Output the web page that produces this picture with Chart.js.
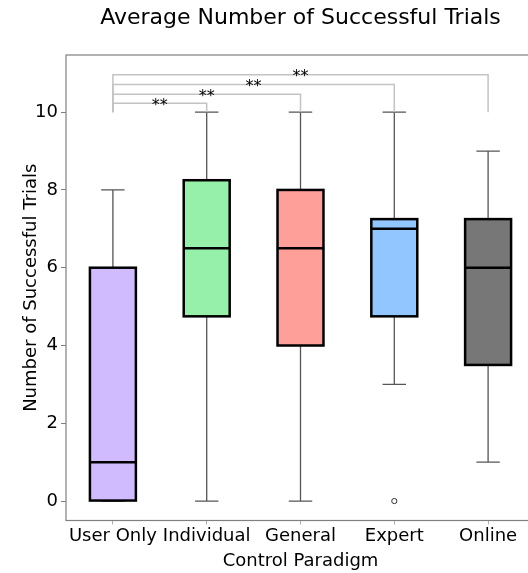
<!DOCTYPE html>
<html>
<head>
<meta charset="utf-8">
<script src="https://cdn.jsdelivr.net/npm/chart.js@4/dist/chart.umd.min.js"></script>
<style>
  html, body { margin: 0; padding: 0; overflow: hidden; background: #fff; }
  #wrap { position: absolute; left: 0; top: 0; width: 540px; height: 573px; }
</style>
</head>
<body>
<div id="wrap"><canvas id="c"></canvas></div>
<script>
// Control paradigms on the x axis
const categories = ['User Only', 'Individual', 'General', 'Expert', 'Online'];
// Five-number summaries per paradigm
const whiskerLow = [0, 0, 0, 3, 1];
const q1 = [0, 4.75, 4, 4.75, 3.5];
const median = [1, 6.5, 6.5, 7, 6];
const q3 = [6, 8.25, 8, 7.25, 7.25];
const whiskerHigh = [8, 10, 10, 10, 9];
// Outliers (null where none)
const outliers = [null, null, null, 0, null];
const boxColors = ['#D0BBFF', '#97F0AA', '#FF9F9A', '#92C6FF', '#777777'];
// Y axis ticks
const yTicks = [0, 2, 4, 6, 8, 10];
// Significance brackets from 'User Only' to each other paradigm
const bracketFrom = 'User Only';
const bracketTo = ['Individual', 'General', 'Expert', 'Online'];
const bracketHeights = [10.23, 10.46, 10.71, 10.96];
const bracketBase = 10;
const bracketLabels = ['**', '**', '**', '**'];

const FONT = "'DejaVu Sans', sans-serif";
const BOX_FRAC = 0.49;

const boxPlugin = {
  id: 'boxParts',
  beforeDatasetsDraw(chart) {
    const { ctx, scales: { x, y } } = chart;
    const step = x.getPixelForValue(1) - x.getPixelForValue(0);
    ctx.save();
    ctx.strokeStyle = '#555';
    ctx.lineWidth = 1.3;
    categories.forEach((c, i) => {
      const cx = x.getPixelForValue(i);
      const capHalf = step * 0.25 / 2;
      ctx.beginPath();
      ctx.moveTo(cx, y.getPixelForValue(q3[i]));
      ctx.lineTo(cx, y.getPixelForValue(whiskerHigh[i]));
      ctx.moveTo(cx, y.getPixelForValue(q1[i]));
      ctx.lineTo(cx, y.getPixelForValue(whiskerLow[i]));
      ctx.moveTo(cx - capHalf, y.getPixelForValue(whiskerHigh[i]));
      ctx.lineTo(cx + capHalf, y.getPixelForValue(whiskerHigh[i]));
      ctx.moveTo(cx - capHalf, y.getPixelForValue(whiskerLow[i]));
      ctx.lineTo(cx + capHalf, y.getPixelForValue(whiskerLow[i]));
      ctx.stroke();
    });
    // significance brackets
    ctx.strokeStyle = '#c4c4c4';
    ctx.lineWidth = 1.5;
    const x0 = x.getPixelForValue(categories.indexOf(bracketFrom));
    bracketTo.forEach((t, k) => {
      const x1 = x.getPixelForValue(categories.indexOf(t));
      const yb = y.getPixelForValue(bracketBase);
      const yh = y.getPixelForValue(bracketHeights[k]);
      ctx.beginPath();
      ctx.moveTo(x0, yb);
      ctx.lineTo(x0, yh);
      ctx.lineTo(x1, yh);
      ctx.lineTo(x1, yb);
      ctx.stroke();
    });
    ctx.fillStyle = '#000';
    ctx.font = '16px ' + FONT;
    ctx.textAlign = 'center';
    ctx.textBaseline = 'alphabetic';
    bracketTo.forEach((t, k) => {
      const x1 = x.getPixelForValue(categories.indexOf(t));
      const yh = y.getPixelForValue(bracketHeights[k]);
      ctx.fillText(bracketLabels[k], (x0 + x1) / 2, yh + 6.5);
    });
    ctx.restore();
  },
  afterDatasetsDraw(chart) {
    const { ctx, scales: { x, y }, chartArea: a } = chart;
    ctx.save();
    // box outlines, stroked on the bar edges
    ctx.strokeStyle = '#000';
    ctx.lineWidth = 2.5;
    ctx.lineJoin = 'miter';
    const meta = chart.getDatasetMeta(1);
    meta.data.forEach(el => {
      const p = el.getProps(['x', 'y', 'base', 'width'], true);
      ctx.strokeRect(p.x - p.width / 2, Math.min(p.y, p.base), p.width, Math.abs(p.base - p.y));
    });
    // medians
    meta.data.forEach((el, i) => {
      const p = el.getProps(['x', 'width'], true);
      const py = y.getPixelForValue(median[i]);
      ctx.beginPath();
      ctx.moveTo(p.x - p.width / 2, py);
      ctx.lineTo(p.x + p.width / 2, py);
      ctx.stroke();
    });
    // axes frame
    ctx.strokeStyle = '#808080';
    ctx.lineWidth = 1.2;
    ctx.strokeRect(a.left, a.top, a.right - a.left, a.bottom - a.top);
    ctx.restore();
  }
};

new Chart(document.getElementById('c'), {
  type: 'bar',
  data: {
    labels: categories,
    datasets: [
      {
        type: 'line',
        data: outliers,
        showLine: false,
        pointRadius: 2.6,
        pointBorderWidth: 1,
        pointBorderColor: '#333',
        pointBackgroundColor: '#fff',
        order: 0
      },
      {
        data: categories.map((c, i) => [q1[i], q3[i]]),
        backgroundColor: boxColors,
        borderWidth: 0,
        borderSkipped: false,
        categoryPercentage: 1,
        barPercentage: BOX_FRAC,
        order: 1
      }
    ]
  },
  options: {
    responsive: true,
    maintainAspectRatio: false,
    animation: false,
    devicePixelRatio: 1,
    layout: { padding: { left: 0, right: 5, top: 0, bottom: 0 } },
    plugins: {
      legend: { display: false },
      tooltip: { enabled: false },
      title: {
        display: true,
        text: 'Average Number of Successful Trials',
        fullSize: false,
        color: '#000',
        font: { family: FONT, size: 22, weight: 'normal', lineHeight: 1.2 },
        padding: { top: 5, bottom: 23.6 }
      }
    },
    scales: {
      x: {
        type: 'category',
        offset: true,
        grid: { display: true, drawOnChartArea: false, drawTicks: true, tickLength: 4, offset: false, color: '#b0b0b0' },
        border: { display: false },
        ticks: { color: '#000', font: { family: FONT, size: 18 }, padding: 1, maxRotation: 0, autoSkip: false },
        title: {
          display: true, text: 'Control Paradigm', color: '#000',
          font: { family: FONT, size: 18, lineHeight: 1.2 },
          padding: { top: 0.5, bottom: 0.5 }
        },
        afterFit(s) { s.height = 52.5; }
      },
      y: {
        min: -0.5,
        max: 11.47,
        grid: { display: true, drawOnChartArea: false, drawTicks: true, tickLength: 5, color: '#808080' },
        border: { display: false },
        ticks: { color: '#000', font: { family: FONT, size: 18 }, padding: 3 },
        afterBuildTicks(s) { s.ticks = yTicks.map(v => ({ value: v })); },
        title: {
          display: true, text: 'Number of Successful Trials', color: '#000',
          font: { family: FONT, size: 18, lineHeight: 1.2 },
          padding: { top: 21, bottom: 0 }
        },
        afterFit(s) { s.width = 66; }
      }
    }
  },
  plugins: [boxPlugin]
});
</script>
</body>
</html>
